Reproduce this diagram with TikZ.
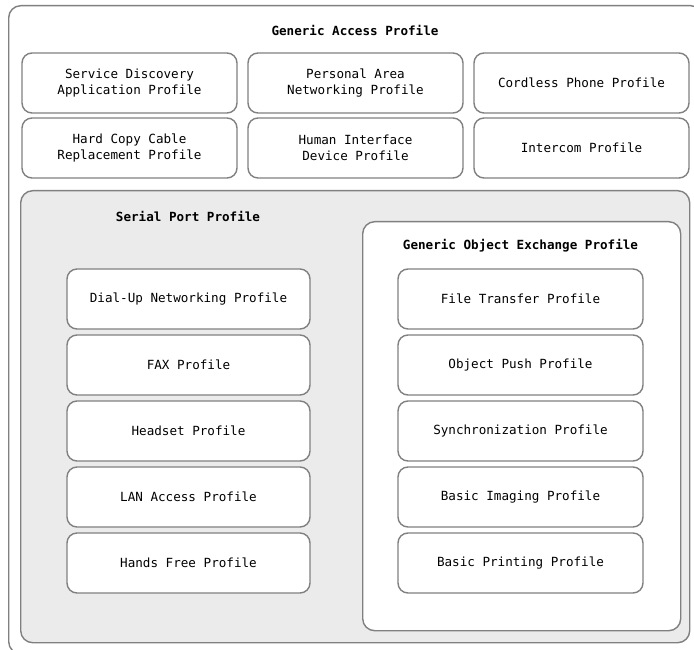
\documentclass[tikz,border=0pt]{standalone}
\usepackage{fontspec}
\setmonofont{DejaVu Sans Mono}
\begin{document}
\begin{tikzpicture}[x=1pt,y=-1pt,
  every node/.style={font=\ttfamily\fontsize{12.6}{16.5}\selectfont},
  bordercol/.style={draw=black!50, line width=1.4pt},
  pbox/.style={bordercol, rounded corners=10pt, fill=white, rectangle, inner sep=0pt, align=center, minimum height=60pt},
  gbox/.style={pbox, minimum width=215pt},
  sbox/.style={pbox, minimum width=243pt},
  obox/.style={pbox, minimum width=245pt},
  ttl/.style={font=\ttfamily\bfseries\fontsize{12.6}{16.5}\selectfont, inner sep=0pt}
]
\useasboundingbox (0,0) rectangle (694,650);
\clip (0,0) rectangle (694,650);
\fill[white] (0,0) rectangle (694,650);
% outer container (extends past the right and bottom edges)
\node[bordercol, rounded corners=12pt, rectangle, inner sep=0pt, minimum width=694pt, minimum height=648pt, anchor=north west] (gap) at (8,5) {};
\node[ttl] (gapt) at (355,30) {Generic Access Profile};
% GAP rows
\node[gbox] (sdap) at (129.5,83) {Service Discovery\\Application Profile};
\node[gbox] (pan)  at (355.5,83) {Personal Area\\Networking Profile};
\node[gbox] (ctp)  at (581.5,83) {Cordless Phone Profile};
\node[gbox] (hcrp) at (129.5,148) {Hard Copy Cable\\Replacement Profile};
\node[gbox] (hid)  at (355.5,148) {Human Interface\\Device Profile};
\node[gbox] (icp)  at (581.5,148) {Intercom Profile};
% Serial Port Profile container
\node[bordercol, rounded corners=12pt, fill=black!8, rectangle, inner sep=0pt, minimum width=669pt, minimum height=452pt, anchor=north west] (spp) at (20,190) {};
\node[ttl] (sppt) at (188,216) {Serial Port Profile};
\node[sbox] (dun) at (188.5,299) {Dial-Up Networking Profile};
\node[sbox] (fax) at (188.5,365) {FAX Profile};
\node[sbox] (hsp) at (188.5,431) {Headset Profile};
\node[sbox] (lap) at (188.5,497) {LAN Access Profile};
\node[sbox] (hfp) at (188.5,563) {Hands Free Profile};
% GOEP container
\node[bordercol, rounded corners=12pt, fill=white, rectangle, inner sep=0pt, minimum width=318pt, minimum height=409pt, anchor=north west] (goep) at (362,221) {};
\node[ttl] (goept) at (520.5,246) {Generic Object Exchange Profile};
\node[obox] (ftp)  at (520.5,299) {File Transfer Profile};
\node[obox] (opp)  at (520.5,365) {Object Push Profile};
\node[obox] (sync) at (520.5,431) {Synchronization Profile};
\node[obox] (bip)  at (520.5,497) {Basic Imaging Profile};
\node[obox] (bpp)  at (520.5,563) {Basic Printing Profile};
\end{tikzpicture}
\end{document}
